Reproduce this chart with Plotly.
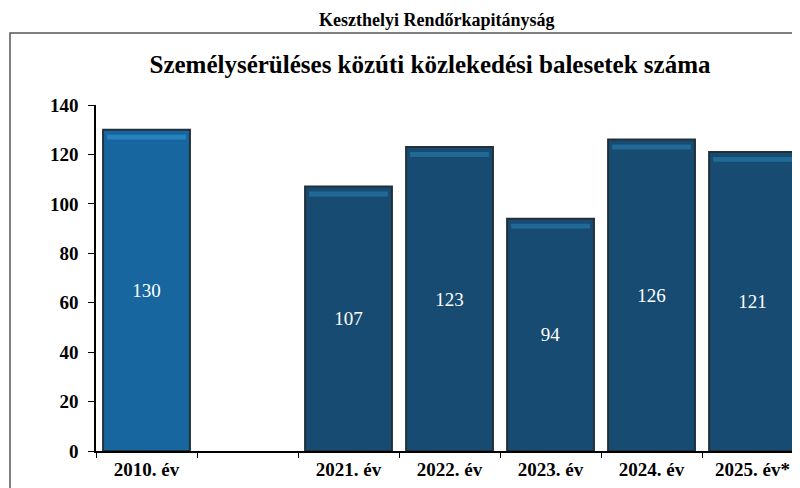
import plotly.graph_objects as go

categories = ["2010. év", " ", "2021. év", "2022. év", "2023. év", "2024. év", "2025. év*"]
values = [130, None, 107, 123, 94, 126, 121]
bar_colors = ["#1766a0", "#174b72", "#174b72", "#174b72", "#174b72", "#174b72", "#174b72"]
stripe_colors = ["#2783bd", "#216a95", "#216a95", "#216a95", "#216a95", "#216a95", "#216a95"]
y_ticks = [0, 20, 40, 60, 80, 100, 120, 140]

main_title = "Keszthelyi Rendőrkapitányság"
chart_title = "Személysérüléses közúti közlekedési balesetek száma"

SERIF = "Liberation Serif"

W, H = 792, 480
L, T, B = 88, 97, 37
PW, PH = W - L, H - T - B

fig = go.Figure()
fig.add_trace(go.Bar(
    x=categories, y=values,
    marker=dict(color=bar_colors, line=dict(color="#22303a", width=2)),
    width=0.86,
    text=[str(v) if v is not None else "" for v in values],
    textposition="inside", insidetextanchor="middle",
    textfont=dict(family=SERIF, size=19, color="white"),
    hoverinfo="skip",
))
# thin lighter highlight at the top of each bar
fig.add_trace(go.Bar(
    x=categories,
    y=[2.0 if v is not None else None for v in values],
    base=[v - 4.0 if v is not None else None for v in values],
    marker=dict(color=stripe_colors, line=dict(width=0)),
    width=0.78,
    hoverinfo="skip",
))

fig.update_layout(
    width=W, height=H,
    barmode="overlay",
    showlegend=False,
    paper_bgcolor="white", plot_bgcolor="rgba(0,0,0,0)",
    margin=dict(l=L, r=0, t=T, b=B),
    font=dict(family=SERIF, color="black"),
    title=dict(text="<b>" + chart_title + "</b>", x=422 / W, xanchor="center",
               y=1 - 56 / H, yanchor="middle", font=dict(family=SERIF, size=25, color="black")),
    xaxis=dict(
        type="category", categoryorder="array", categoryarray=categories,
        range=[-0.5, 6.47],
        showline=True, linecolor="black", linewidth=1.5,
        ticks="outside", tickson="boundaries", ticklen=5, tickcolor="black",
        tickfont=dict(family=SERIF, size=19, color="black"),
        showgrid=False, zeroline=False,
        ticktext=["<b>" + c + "</b>" for c in categories], tickvals=categories,
    ),
    yaxis=dict(
        range=[0, 140], tickvals=y_ticks,
        ticktext=["<b>%d</b>" % t for t in y_ticks],
        showline=True, linecolor="black", linewidth=1.5,
        ticks="outside", ticklen=6, tickcolor="black", ticklabelstandoff=6,
        tickfont=dict(family=SERIF, size=19, color="black"),
        showgrid=False, zeroline=False,
    ),
    annotations=[dict(
        text="<b>" + main_title + "</b>", xref="paper", yref="paper",
        x=(429 - L) / PW, y=1 + (T - 12) / PH, xanchor="center", yanchor="middle",
        showarrow=False, font=dict(family=SERIF, size=18, color="black"),
    )],
    shapes=[dict(
        type="rect", xref="paper", yref="paper",
        x0=(2 - L) / PW, x1=1.02, y0=-0.2, y1=1 + (T - 25) / PH,
        line=dict(color="#555555", width=1.5), fillcolor="rgba(0,0,0,0)", layer="below",
    )],
)

fig.write_html("out.html")
